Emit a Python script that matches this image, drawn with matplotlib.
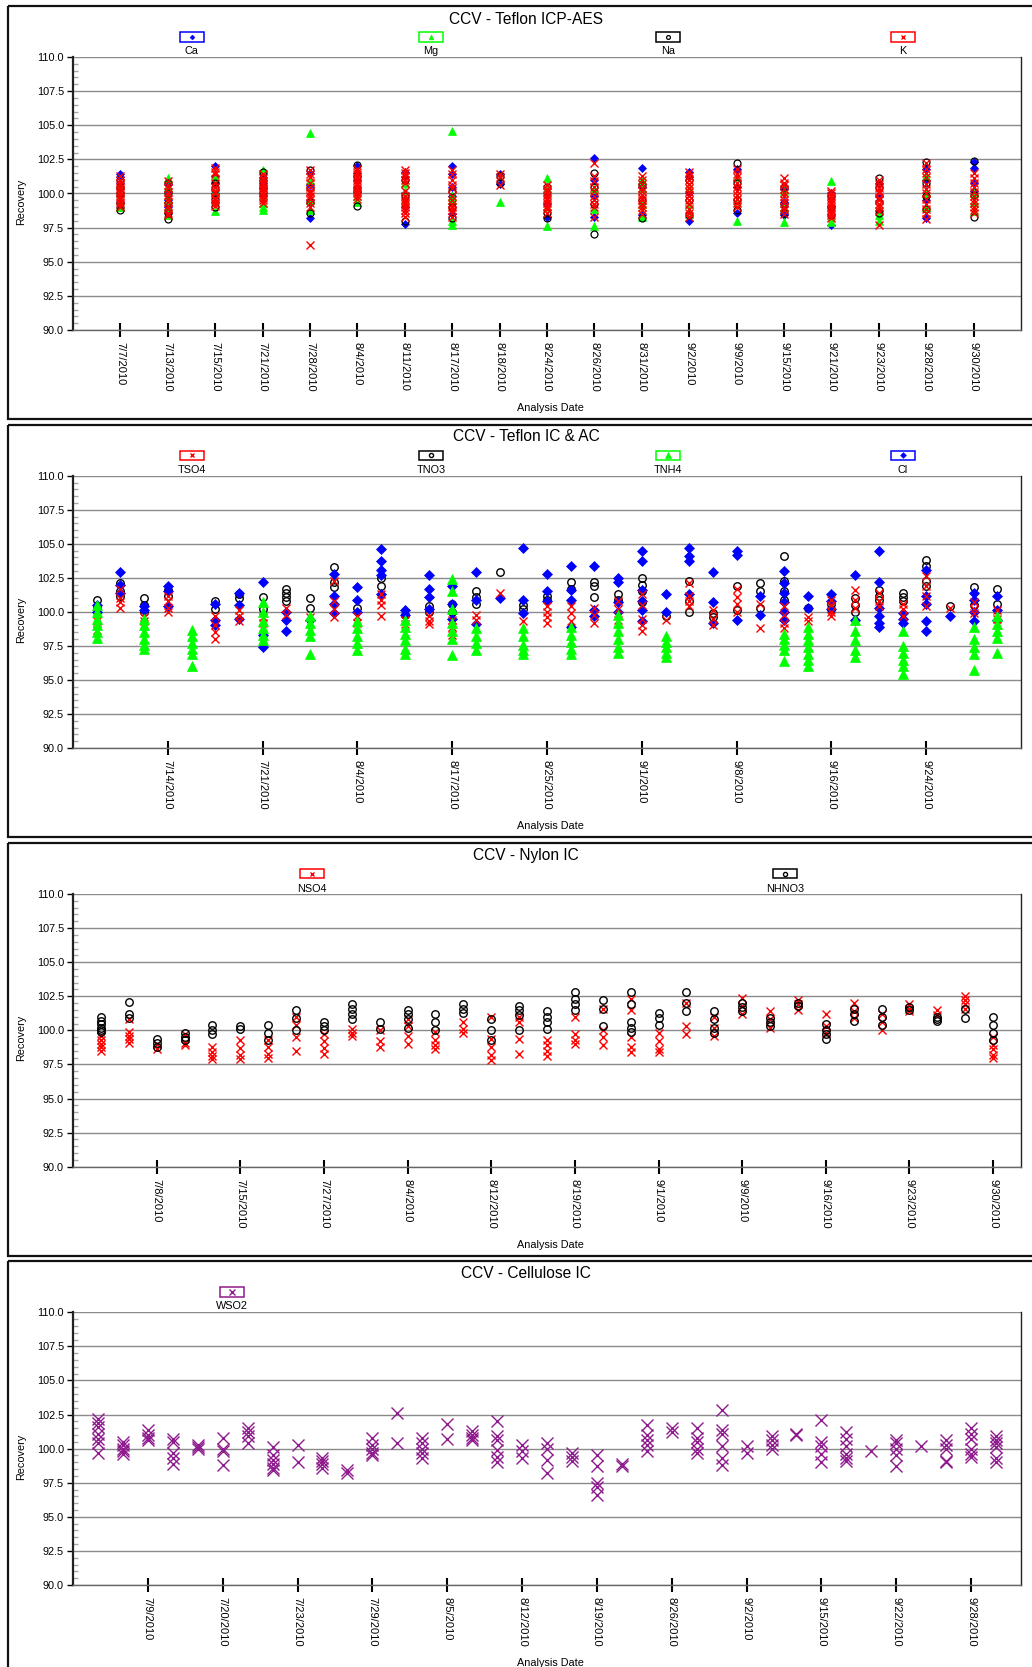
import matplotlib
matplotlib.use('Agg')
import matplotlib.pyplot as plt
from matplotlib.patches import Rectangle
from matplotlib.ticker import MultipleLocator, FormatStrFormatter

plt.rcParams['font.family'] = ['Liberation Sans', 'DejaVu Sans']

# ---------------- DATA ----------------
# Panel 1: CCV - Teflon ICP-AES
p1_dates = ["7/7/2010", "7/13/2010", "7/15/2010", "7/21/2010", "7/28/2010", "8/4/2010",
            "8/11/2010", "8/17/2010", "8/18/2010", "8/24/2010", "8/26/2010", "8/31/2010",
            "9/2/2010", "9/9/2010", "9/15/2010", "9/21/2010", "9/23/2010", "9/28/2010", "9/30/2010"]
p1_ca = [[101.4, 101.2, 100.8, 100.3, 99.8, 99.4, 99.0], [100.7, 100.2, 99.5, 99.0, 98.6],
         [102.0, 101.3, 100.8, 100.0, 99.4], [101.2, 100.8, 100.3, 99.8], [101.5, 100.6, 99.5, 98.2],
         [102.0, 101.5, 101.0, 100.5, 100.0], [101.6, 101.2, 100.0, 99.0, 97.8],
         [102.0, 101.4, 100.5, 99.8, 98.5], [101.4, 100.7], [100.0, 99.2, 98.3],
         [102.6, 101.0, 99.8, 98.3], [101.9, 100.5, 98.4], [101.6, 101.2, 100.0, 98.0],
         [101.8, 100.5, 98.6], [100.3, 99.4, 98.4], [100.0, 99.1, 97.7], [100.8, 99.8, 98.8],
         [101.8, 101.0, 99.5, 98.2], [102.3, 101.9, 100.8, 100.2]]
p1_mg = [[100.6, 100.0, 99.5, 99.2, 99.0], [101.1, 100.5, 99.6, 99.0, 98.4], [101.2, 100.2, 99.4, 98.7],
         [101.7, 99.8, 99.3, 99.0, 98.8], [104.4, 101.0, 99.5, 98.8], [100.3, 99.8, 99.4],
         [100.8, 100.2, 99.5], [104.6, 99.8, 99.5, 98.0, 97.7], [99.4], [101.1, 100.3, 99.0, 97.6],
         [100.3, 98.9, 97.6], [101.0, 100.4, 99.2, 98.3], [100.5, 99.2, 98.5], [101.2, 99.4, 98.0],
         [100.2, 99.0, 97.9], [100.9, 98.3, 97.9], [99.0, 98.4, 98.0], [101.3, 100.0, 99.0],
         [100.0, 99.4, 98.7]]
p1_na = [[101.0, 100.5, 100.0, 99.3, 98.8], [100.8, 100.0, 99.3, 98.6, 98.1], [100.8, 100.3, 99.6, 99.0],
         [101.6, 101.0, 100.5, 100.0], [101.7, 100.4, 99.4, 98.6], [102.1, 101.3, 100.2, 99.1],
         [101.0, 99.8, 98.0], [100.2, 99.0, 98.2], [101.3, 100.8], [100.5, 98.6, 98.2],
         [101.5, 100.5, 99.2, 97.0], [100.6, 99.5, 98.2], [101.0, 99.5, 98.4], [102.2, 100.8, 99.5, 98.8],
         [100.5, 99.2, 98.6], [99.8, 99.0, 98.4], [101.1, 100.5, 99.4, 98.6], [102.3, 100.8, 99.8, 98.9],
         [102.4, 99.9, 98.3]]
p1_k = [[101.3, 101.0, 100.8, 100.6, 100.4, 100.2, 100.0, 99.8, 99.6, 99.4, 99.2, 99.0],
        [100.9, 100.6, 100.4, 100.1, 99.9, 99.6, 99.4, 99.1, 98.9, 98.6, 98.4],
        [101.9, 101.6, 101.4, 100.8, 100.5, 100.2, 100.0, 99.7, 99.5, 99.3, 99.1],
        [101.4, 101.1, 100.9, 100.7, 100.5, 100.3, 100.1, 99.9, 99.7, 99.5, 99.3],
        [101.7, 101.4, 101.2, 100.8, 100.5, 100.2, 100.0, 99.8, 99.6, 99.3, 99.0, 96.2],
        [101.8, 101.6, 101.4, 101.2, 101.0, 100.8, 100.6, 100.4, 100.2, 100.0, 99.8, 99.6],
        [101.7, 101.5, 101.3, 101.0, 100.8, 100.2, 99.8, 99.6, 99.4, 99.2, 99.0, 98.8, 98.6, 98.3],
        [101.7, 101.4, 101.0, 100.6, 100.4, 99.8, 99.5, 99.2, 99.0, 98.8, 98.6, 98.3],
        [101.4, 101.2, 100.6],
        [100.6, 100.3, 100.1, 99.9, 99.7, 99.5, 99.3, 99.1, 98.9, 98.6],
        [102.2, 101.3, 100.9, 100.5, 100.2, 99.8, 99.5, 99.2, 99.0, 98.3],
        [101.3, 101.0, 100.7, 100.4, 100.2, 99.9, 99.7, 99.5, 99.2, 99.0, 98.8, 98.5],
        [101.6, 101.3, 101.0, 100.7, 100.4, 100.1, 99.8, 99.5, 99.2, 98.9, 98.6, 98.3],
        [101.8, 101.4, 101.2, 100.8, 100.5, 100.2, 99.9, 99.6, 99.3, 99.0],
        [101.1, 100.8, 100.6, 100.3, 100.0, 99.8, 99.5, 99.3, 99.0, 98.8, 98.5],
        [100.2, 100.0, 99.8, 99.6, 99.4, 99.2, 99.0, 98.8, 98.6, 98.4, 98.2],
        [101.0, 100.7, 100.4, 100.2, 100.0, 99.7, 99.5, 99.2, 99.0, 98.7, 97.7],
        [102.2, 101.8, 101.5, 101.2, 100.7, 100.3, 100.0, 99.6, 99.2, 98.9, 98.6, 98.1],
        [101.5, 101.1, 100.8, 100.5, 100.1, 99.8, 99.5, 99.3, 99.0, 98.8, 98.6]]

# Panel 2: CCV - Teflon IC & AC (39 analysis runs, labelled every 4th)
p2_tick_idx = [4, 8, 12, 16, 20, 24, 28, 32, 36]
p2_dates = ["7/14/2010", "7/21/2010", "8/4/2010", "8/17/2010", "8/25/2010",
            "9/1/2010", "9/8/2010", "9/16/2010", "9/24/2010"]
p2_tso4 = [[100.0, 99.3, 98.7], [101.7, 101.0, 100.7, 100.3], [99.6, 99.3], [101.2, 100.8, 100.3, 100.0],
           [], [99.7, 99.0, 98.5, 98.0], [100.1, 99.7, 99.3], [99.6, 99.2, 98.8], [100.3, 99.8],
           [99.6], [102.3, 100.8, 100.2, 99.6], [99.7, 99.2], [101.3, 100.9, 100.5, 99.7], [99.4, 99.1],
           [99.7, 99.3, 99.1], [99.4, 98.9, 98.3], [99.8, 99.4], [101.4], [99.3], [100.4, 100.0, 99.6, 99.2],
           [100.4, 99.9, 99.3], [100.3, 99.8, 99.2], [100.8, 100.2, 99.4], [101.3, 100.5, 99.5, 99.0, 98.6],
           [99.4], [102.1, 101.2, 100.8, 100.4], [100.1, 99.5, 99.0], [101.7, 101.1, 100.6, 100.0],
           [100.6, 98.8], [100.4, 99.8, 99.2, 98.8], [99.6, 99.3], [100.9, 100.5, 100.0, 99.7],
           [101.6, 100.9, 100.3], [101.4, 100.8, 100.4], [100.6, 100.2, 99.7], [102.6, 101.9, 101.2, 100.4],
           [100.3], [100.7, 100.2, 99.9], [100.1, 99.5, 99.0]]
p2_tno3 = [[100.9, 100.3], [102.1, 101.5, 101.2], [101.0, 100.5, 100.0], [101.6, 101.2], [],
           [100.8, 100.2], [101.3, 101.0], [101.1, 100.2], [101.7, 101.4, 101.1, 100.8], [101.0, 100.3],
           [103.3, 102.2, 101.8], [100.3], [102.5, 101.9], [99.8], [100.4, 100.0], [100.6, 100.0],
           [101.5, 101.1, 100.6], [102.9], [100.5, 100.2], [101.2, 100.9], [102.2, 101.7],
           [102.2, 101.9, 101.1], [101.3, 100.9], [102.5, 102.0, 101.5, 100.7], [99.7],
           [102.3, 100.8, 100.0], [99.9, 99.6], [101.9, 100.1], [102.1, 101.5, 100.3],
           [104.1, 102.3, 101.5, 100.9], [100.3], [100.6, 100.2], [101.0, 100.5, 100.0],
           [101.6, 101.2, 100.9], [101.4, 101.1, 100.8], [103.8, 103.4, 102.3, 101.9], [100.4],
           [101.8, 100.5], [101.7, 100.6]]
p2_tnh4 = [[100.5, 100.0, 99.5, 99.0, 98.5, 98.1], [], [99.5, 99.0, 98.5, 98.0, 97.6, 97.3], [],
           [98.7, 98.2, 97.7, 97.3, 96.9, 96.0], [], [], [100.7, 100.0, 99.3, 98.8, 98.3, 97.9], [],
           [99.7, 99.2, 98.7, 98.2, 96.9], [], [99.3, 98.8, 98.2, 97.7, 97.2], [],
           [99.4, 98.9, 98.4, 97.9, 97.3, 96.9], [], [102.4, 101.5, 100.2, 99.2, 98.6, 98.0, 96.8],
           [98.8, 98.2, 97.7, 97.2], [], [98.8, 98.2, 97.6, 97.2, 96.9], [],
           [98.9, 98.3, 97.8, 97.3, 96.9], [], [99.8, 99.2, 98.6, 98.0, 97.4, 97.0], [],
           [98.2, 97.8, 97.4, 97.0, 96.7], [], [], [], [], [98.4, 98.0, 97.6, 97.2, 96.4],
           [98.9, 98.4, 97.9, 97.4, 96.9, 96.5, 96.0], [], [99.4, 98.6, 97.9, 97.2, 96.7], [],
           [98.6, 97.5, 97.0, 96.5, 96.0, 95.4], [], [], [98.9, 98.0, 97.4, 96.9, 95.7],
           [99.7, 99.1, 98.6, 98.1, 97.0]]
p2_cl = [[100.5, 100.0], [102.9, 102.0, 101.4], [100.4, 100.1], [101.9, 101.5, 100.4], [],
         [100.6, 99.4, 99.0], [101.4, 100.5, 99.5], [102.2, 98.3, 97.4], [100.0, 99.4, 98.6], [99.4],
         [102.8, 101.2, 100.6, 99.9], [101.8, 100.9, 100.0], [104.6, 103.7, 103.1, 102.7, 101.3],
         [100.1, 99.8], [102.7, 101.7, 101.1, 100.2], [101.9, 100.6, 99.5], [102.9, 100.9, 99.1],
         [101.0], [104.7, 100.9, 99.9], [102.8, 101.5, 100.8], [103.4, 101.6, 100.9, 98.9],
         [103.4, 100.1, 99.7], [102.5, 102.2, 100.7, 100.0], [104.5, 103.7, 101.6, 100.8, 100.1, 99.3],
         [101.3, 100.0], [104.7, 104.1, 103.7, 101.3], [102.9, 100.7, 99.2], [104.5, 104.2, 99.4],
         [101.2, 99.8], [103.0, 102.1, 101.4, 100.7, 100.0, 99.4], [101.2, 100.3], [101.3, 100.8, 100.2],
         [102.7, 99.4], [104.5, 102.2, 100.3, 99.7, 99.2, 98.9], [99.9, 99.5, 99.2],
         [103.1, 101.2, 100.6, 99.3, 98.6], [99.7], [101.4, 100.9, 100.0, 99.3], [101.2, 100.1, 99.4]]

# Panel 3: CCV - Nylon IC (33 runs, labelled every 3rd)
p3_tick_idx = [3, 6, 9, 12, 15, 18, 21, 24, 27, 30, 33]
p3_dates = ["7/8/2010", "7/15/2010", "7/27/2010", "8/4/2010", "8/12/2010", "8/19/2010",
            "9/1/2010", "9/9/2010", "9/16/2010", "9/23/2010", "9/30/2010"]
p3_nso4 = [[99.6, 99.3, 99.0, 98.8, 98.5], [100.8, 99.9, 99.6, 99.4, 99.1], [99.0, 98.6],
           [99.7, 99.1, 98.9], [98.8, 98.4, 98.1, 97.9], [99.3, 98.7, 98.2, 97.9], [99.3, 98.8, 98.3, 98.0],
           [101.0, 100.4, 99.5, 98.5], [99.7, 99.2, 98.7, 98.3], [100.1, 99.8, 99.6], [100.0, 99.2, 98.8],
           [100.8, 100.3, 99.6, 99.0], [99.9, 99.3, 98.9, 98.6], [100.6, 100.1, 99.8],
           [101.0, 99.4, 98.8, 98.2, 97.8], [101.0, 100.6, 99.4, 98.3], [99.3, 98.9, 98.5, 98.1],
           [101.0, 99.7, 99.3, 99.0], [101.6, 100.0, 99.5, 98.9], [102.3, 101.5, 99.5, 98.8, 98.4],
           [99.8, 99.2, 98.6, 98.4], [102.0, 100.3, 99.7], [101.0, 100.2, 99.6], [102.4, 101.8, 101.2],
           [101.4, 100.8, 100.2], [102.2, 101.9, 101.5], [101.2, 100.3, 99.8], [102.0, 101.4, 100.9],
           [101.2, 100.6, 100.0], [101.9, 101.6, 101.4], [101.5, 101.1], [102.5, 102.2, 101.9, 101.6],
           [99.5, 98.9, 98.6, 98.2, 98.0]]
p3_nhno3 = [[101.0, 100.7, 100.5, 100.2, 100.0, 99.9], [102.1, 101.2, 100.9], [99.4, 99.1, 98.8],
            [99.8, 99.5, 99.3], [100.4, 100.0, 99.7], [100.3, 100.1], [100.4, 99.8, 99.3],
            [101.5, 100.9, 100.0], [100.6, 100.3, 100.0], [101.9, 101.6, 101.2, 100.8], [100.6, 100.1],
            [101.5, 101.2, 100.8, 100.2], [101.2, 100.6, 100.0], [101.9, 101.6, 101.3],
            [100.8, 100.0, 99.3], [101.8, 101.5, 101.1, 100.0], [101.4, 101.0, 100.6, 100.1],
            [102.8, 102.3, 101.9, 101.5], [102.2, 101.6, 100.3], [102.8, 101.9, 100.6, 100.2, 99.9],
            [101.3, 100.9, 100.4], [102.8, 102.0, 101.4], [101.4, 100.8, 100.2, 99.8],
            [102.0, 101.7, 101.4], [100.9, 100.6, 100.3], [102.0, 101.8], [100.5, 100.0, 99.7, 99.4],
            [101.6, 101.2, 100.7], [101.6, 101.0, 100.4], [101.7, 101.5], [101.0, 100.8, 100.7],
            [101.6, 100.9], [101.0, 100.4, 99.8, 99.3]]

# Panel 4: CCV - Cellulose IC (37 runs, labelled every 3rd)
p4_tick_idx = [3, 6, 9, 12, 15, 18, 21, 24, 27, 30, 33, 36]
p4_dates = ["7/9/2010", "7/20/2010", "7/23/2010", "7/29/2010", "8/5/2010", "8/12/2010",
            "8/19/2010", "8/26/2010", "9/2/2010", "9/15/2010", "9/22/2010", "9/28/2010"]
p4_wso2 = [[102.2, 101.9, 101.6, 101.1, 100.7, 100.4, 99.7], [100.5, 100.3, 100.0, 99.8, 99.6],
           [101.4, 101.0, 100.8, 100.6], [100.7, 100.5, 99.7, 99.3, 98.9], [100.3, 100.1, 100.0],
           [100.8, 100.0, 99.8, 98.8], [101.5, 101.2, 100.9, 100.4], [100.1, 99.5, 99.2, 98.9, 98.6, 98.4],
           [100.3, 99.0], [99.3, 99.1, 98.9, 98.6], [98.4, 98.2], [100.8, 100.3, 100.0, 99.7, 99.5],
           [102.6, 100.4], [100.8, 100.4, 100.0, 99.7, 99.3], [101.8, 100.7], [101.3, 101.0, 100.8, 100.6],
           [102.0, 100.9, 100.6, 99.9, 99.4, 99.0], [100.3, 99.8, 99.3], [100.4, 100.0, 99.2, 98.2],
           [99.7, 99.4, 99.1], [99.5, 98.7, 97.5, 97.2, 96.6], [98.9, 98.7], [101.7, 101.0, 100.6, 100.3, 99.8],
           [101.5, 101.2], [101.5, 100.8, 100.5, 100.0, 99.7], [102.8, 101.4, 101.1, 100.2, 99.3, 98.8],
           [100.2, 99.7], [100.9, 100.6, 100.3, 100.0], [101.0, 101.1], [102.1, 100.5, 100.2, 99.6, 99.0],
           [101.2, 100.7, 100.2, 99.6, 99.3, 99.1], [99.8], [100.6, 100.4, 100.0, 99.5, 98.7], [100.2],
           [100.6, 100.3, 100.0, 99.1, 99.0], [101.5, 101.1, 100.7, 100.0, 99.6, 99.4],
           [100.9, 100.6, 100.4, 100.1, 99.3, 99.0]]

# ---------------- STYLES ----------------
BLUE, GREEN, RED, BLACK, PURPLE = '#0000FF', '#00FF00', '#FF0000', '#000000', '#8E1A8E'
# panel 1 (denser, slightly smaller markers)
S1_CA = dict(marker='D', ms=4.3, mfc=BLUE, mec=BLUE, mew=0.5)
S1_MG = dict(marker='^', ms=6.0, mfc=GREEN, mec=GREEN, mew=0.5)
S1_NA = dict(marker='o', ms=5.0, mfc='none', mec=BLACK, mew=0.9)
S1_K = dict(marker='x', ms=5.8, mfc=RED, mec=RED, mew=1.0)
# panels 2 and 3
S2_CA = dict(marker='D', ms=5.2, mfc=BLUE, mec=BLUE, mew=0.5)
S2_MG = dict(marker='^', ms=7.0, mfc=GREEN, mec=GREEN, mew=0.5)
S2_NA = dict(marker='o', ms=5.4, mfc='none', mec=BLACK, mew=1.0)
S2_K = dict(marker='x', ms=6.4, mfc=RED, mec=RED, mew=1.0)
S4_PU = dict(marker='x', ms=8.0, mfc=PURPLE, mec=PURPLE, mew=1.0)

W, H, DPI = 1032, 1667, 100
fig = plt.figure(figsize=(W / DPI, H / DPI), dpi=DPI)
fig.patch.set_facecolor('white')

ov = fig.add_axes([0, 0, 1, 1], zorder=0)
ov.set_xlim(0, W)
ov.set_ylim(H, 0)
ov.axis('off')

PL, PR = 73, 1021


def panel(top, bottom, ncat, tick_idx, tick_labels, series):
    ax = fig.add_axes([PL / W, 1 - bottom / H, (PR - PL) / W, (bottom - top) / H], zorder=2)
    ax.set_facecolor('none')
    for vals, st in series:
        xs = [i + 1 for i, grp in enumerate(vals) for _ in grp]
        ys = [v for grp in vals for v in grp]
        ax.plot(xs, ys, linestyle='none', zorder=3, clip_on=False, **st)
    ax.set_xlim(0, ncat + 1)
    ax.set_ylim(90, 110)
    ax.yaxis.set_major_locator(MultipleLocator(2.5))
    ax.yaxis.set_minor_locator(MultipleLocator(0.5))
    ax.yaxis.set_major_formatter(FormatStrFormatter('%.1f'))
    ax.grid(axis='y', which='major', color='#8a8a8a', lw=1.0)
    ax.set_axisbelow(True)
    ax.tick_params(axis='y', which='major', direction='out', length=4.5, width=1.0,
                   color='black', labelsize=7.8, pad=2)
    ax.tick_params(axis='y', which='minor', direction='in', length=3.8, width=1.0, color='#a8a8a8')
    ax.set_xticks(tick_idx)
    ax.set_xticklabels(tick_labels, rotation=270, va='top', ha='center')
    ax.tick_params(axis='x', which='major', direction='inout', length=10.5, width=1.5,
                   color='black', labelsize=8, pad=3.5)
    ax.spines['left'].set_linewidth(1.6)
    ax.spines['left'].set_color('#222222')
    ax.spines['bottom'].set_linewidth(1.0)
    ax.spines['bottom'].set_color('#666666')
    ax.spines['right'].set_linewidth(1.0)
    ax.spines['right'].set_color('#222222')
    ax.spines['top'].set_visible(False)
    return ax


def decorations(box_top, box_bottom, ax_top, ax_bottom, title, title_base, legend_items,
                leg_box_c, leg_lab_base):
    ov.add_patch(Rectangle((8, box_top), 1100, box_bottom - box_top, fill=False,
                           ec='#111111', lw=1.6))
    ov.text(526, title_base, title, ha='center', va='baseline', fontsize=11.2, color='black')
    for x, lab, st, ec in legend_items:
        ov.add_patch(Rectangle((x - 12, leg_box_c - 4.7), 24.4, 9.4, fill=False, ec=ec, lw=1.1))
        s = dict(st)
        s['ms'] = s['ms'] * 0.55
        ov.plot([x], [leg_box_c], linestyle='none', **s)
        ov.text(x, leg_lab_base, lab, ha='center', va='baseline', fontsize=7.8)
    ov.text(20.7, (ax_top + ax_bottom) / 2 + 8, 'Recovery', rotation=90, ha='center',
            va='center', fontsize=7.8)
    ov.text(550, ax_bottom + 78, 'Analysis Date', ha='center', va='center', fontsize=7.8)


# Panel 1
panel(57, 330, len(p1_dates), list(range(1, len(p1_dates) + 1)), p1_dates,
      [(p1_ca, S1_CA), (p1_mg, S1_MG), (p1_na, S1_NA), (p1_k, S1_K)])
decorations(6, 419, 57, 330, 'CCV - Teflon ICP-AES', 23.5,
            [(191.7, 'Ca', S1_CA, BLUE), (431, 'Mg', S1_MG, GREEN),
             (667.7, 'Na', S1_NA, BLACK), (902.7, 'K', S1_K, RED)], 37, 54.3)

# Panel 2
panel(475.7, 748, len(p2_cl), p2_tick_idx, p2_dates,
      [(p2_tno3, S2_NA), (p2_cl, S2_CA), (p2_tso4, S2_K), (p2_tnh4, S2_MG)])
decorations(425, 837, 475.7, 748, 'CCV - Teflon IC & AC', 440.7,
            [(191.7, 'TSO4', S2_K, RED), (431, 'TNO3', S2_NA, BLACK),
             (668, 'TNH4', S2_MG, GREEN), (902.7, 'Cl', S2_CA, BLUE)], 455.3, 472.7)

# Panel 3
panel(894, 1166.7, len(p3_nso4), p3_tick_idx, p3_dates,
      [(p3_nso4, S2_K), (p3_nhno3, S2_NA)])
decorations(843, 1256, 894, 1166.7, 'CCV - Nylon IC', 860,
            [(311.7, 'NSO4', S2_K, RED), (785, 'NHNO3', S2_NA, BLACK)], 873.8, 891.7)

# Panel 4
panel(1312.3, 1585, len(p4_wso2), p4_tick_idx, p4_dates, [(p4_wso2, S4_PU)])
decorations(1261, 1700, 1312.3, 1585, 'CCV - Cellulose IC', 1277.7,
            [(231.7, 'WSO2', S4_PU, PURPLE)], 1292, 1309.3)

fig.savefig('out.png', dpi=DPI, facecolor='white')
